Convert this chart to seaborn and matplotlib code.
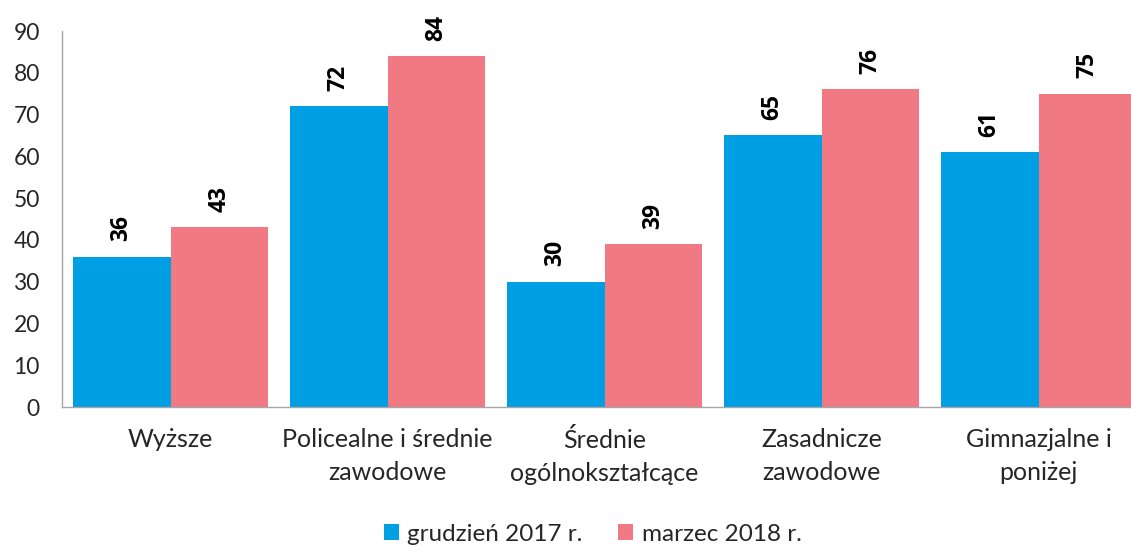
import pandas as pd
import numpy as np
import matplotlib
matplotlib.use("Agg")
import matplotlib.pyplot as plt
import seaborn as sns

# Data
categories = ["Wyższe", "Policealne i średnie\nzawodowe", "Średnie\nogólnokształcące",
              "Zasadnicze\nzawodowe", "Gimnazjalne i\nponiżej"]
series_names = ["grudzień 2017 r.", "marzec 2018 r."]
dec_2017 = [36, 72, 30, 65, 61]
mar_2018 = [43, 84, 39, 76, 75]
y_ticks = [0, 10, 20, 30, 40, 50, 60, 70, 80, 90]

colors = ["#009FE3", "#F07983"]

df = pd.DataFrame({
    "kategoria": categories * 2,
    "okres": [series_names[0]] * 5 + [series_names[1]] * 5,
    "wartosc": dec_2017 + mar_2018,
})

sns.set_style("white")
plt.rcParams['font.family'] = ['Lato', 'DejaVu Sans']

fig = plt.figure(figsize=(11.31, 5.48), dpi=100)
ax = fig.add_axes([62 / 1131, 141 / 548, 1085 / 1131, 376 / 548])

sns.barplot(data=df, x="kategoria", y="wartosc", hue="okres", palette=colors,
            width=0.9, gap=0, saturation=1, linewidth=0, ax=ax, legend=True)

# Value labels
for cont in ax.containers:
    for bar in cont:
        h = bar.get_height()
        ax.annotate(f'{int(h)}', (bar.get_x() + bar.get_width() / 2, h),
                    xytext=(0, 11), textcoords='offset points',
                    ha='center', va='bottom', rotation=90,
                    fontsize=16.5, fontweight='bold', color='black',
                    family=['Open Sans', 'DejaVu Sans'])

ax.set_ylim(0, 90)
ax.set_xlim(-0.5, 4.5)
ax.set_yticks(y_ticks)
ax.set_xlabel("")
ax.set_ylabel("")

ax.set_xticks(range(len(categories)))
ax.set_xticklabels(categories, linespacing=1.55, fontsize=18)
ax.set_xticks(np.arange(-0.5, 5.0, 1.0), minor=True)
ax.tick_params(axis='x', which='major', length=0, pad=15)
ax.tick_params(axis='x', which='minor', length=7, color='#A6A6A6', width=1)
ax.tick_params(axis='y', length=7, color='#A6A6A6', width=1, labelsize=16.5, pad=9)

for s in ['top', 'right']:
    ax.spines[s].set_visible(False)
for s in ['left', 'bottom']:
    ax.spines[s].set_color('#A6A6A6')
    ax.spines[s].set_linewidth(1)

handles, labels = ax.get_legend_handles_labels()
ax.get_legend().remove()
fig.legend(handles, labels, loc='lower center', bbox_to_anchor=(0.524, -0.034),
           ncol=2, frameon=False, fontsize=17.5, handlelength=0.62, handleheight=0.62,
           handletextpad=0.35, columnspacing=1.45)

fig.savefig("out.png", dpi=100)
